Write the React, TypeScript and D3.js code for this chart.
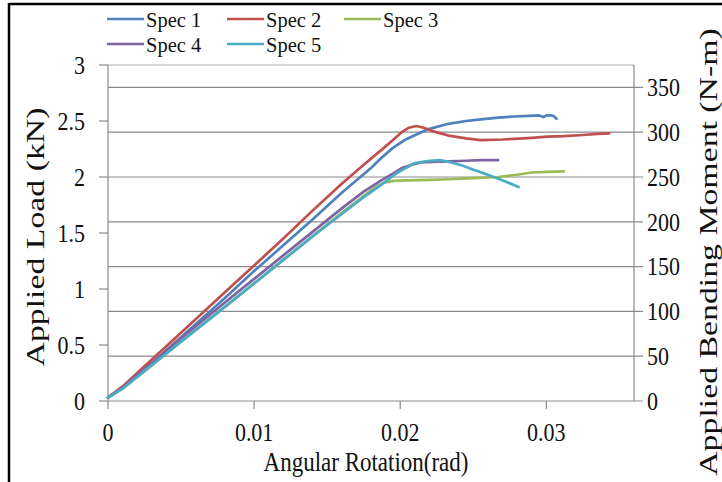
import React from "react";
import * as d3 from "d3";

// Rotation (rad) / applied load (kN) readings for each specimen
const spec1X = [0, 0.001, 0.003, 0.005, 0.008, 0.010, 0.012, 0.014, 0.016, 0.018, 0.0187, 0.0195, 0.0203, 0.0211, 0.022, 0.0233, 0.0245, 0.0255, 0.0267, 0.0278, 0.0288, 0.0295, 0.0298, 0.0300, 0.0303, 0.0305, 0.0307];
const spec1Y = [0.03, 0.12, 0.34, 0.57, 0.92, 1.16, 1.39, 1.62, 1.86, 2.08, 2.17, 2.26, 2.33, 2.38, 2.43, 2.475, 2.50, 2.515, 2.53, 2.54, 2.545, 2.55, 2.535, 2.55, 2.55, 2.545, 2.52];

const spec2X = [0, 0.001, 0.003, 0.005, 0.008, 0.010, 0.012, 0.014, 0.016, 0.0175, 0.0187, 0.0195, 0.0201, 0.0206, 0.0211, 0.0216, 0.0222, 0.0233, 0.0245, 0.0255, 0.027, 0.0278, 0.029, 0.0301, 0.0312, 0.0325, 0.0335, 0.0343];
const spec2Y = [0.03, 0.13, 0.37, 0.61, 0.97, 1.21, 1.45, 1.70, 1.94, 2.11, 2.24, 2.33, 2.40, 2.44, 2.455, 2.44, 2.41, 2.37, 2.345, 2.33, 2.335, 2.34, 2.35, 2.36, 2.365, 2.375, 2.385, 2.39];

const spec3X = [0, 0.001, 0.003, 0.005, 0.008, 0.010, 0.012, 0.014, 0.016, 0.0175, 0.0183, 0.0189, 0.0195, 0.0205, 0.022, 0.0233, 0.025, 0.0267, 0.028, 0.029, 0.030, 0.0312];
const spec3Y = [0.03, 0.11, 0.32, 0.53, 0.84, 1.05, 1.26, 1.47, 1.68, 1.83, 1.91, 1.95, 1.965, 1.97, 1.975, 1.98, 1.99, 2.00, 2.02, 2.04, 2.045, 2.05];

const spec4X = [0, 0.001, 0.003, 0.005, 0.008, 0.010, 0.012, 0.014, 0.016, 0.0175, 0.0187, 0.0195, 0.0201, 0.0208, 0.0214, 0.0222, 0.0233, 0.0245, 0.0255, 0.0267];
const spec4Y = [0.03, 0.12, 0.34, 0.56, 0.88, 1.09, 1.30, 1.51, 1.72, 1.87, 1.97, 2.03, 2.08, 2.11, 2.13, 2.135, 2.14, 2.145, 2.15, 2.15];

const spec5X = [0, 0.001, 0.003, 0.005, 0.008, 0.010, 0.012, 0.014, 0.016, 0.0175, 0.0187, 0.0197, 0.021, 0.022, 0.0228, 0.0235, 0.0243, 0.0251, 0.0258, 0.0264, 0.0272, 0.0281];
const spec5Y = [0.03, 0.11, 0.32, 0.53, 0.84, 1.05, 1.26, 1.47, 1.67, 1.82, 1.93, 2.03, 2.125, 2.145, 2.15, 2.13, 2.10, 2.06, 2.03, 2.0, 1.96, 1.91];

const seriesNames = ["Spec 1", "Spec 2", "Spec 3", "Spec 4", "Spec 5"];
const seriesColors = ["#4F81BD", "#C0504D", "#9BBB59", "#8064A2", "#4BACC6"];

const xTicks = [0, 0.01, 0.02, 0.03];
const xTickLabels = ["0", "0.01", "0.02", "0.03"];
const loadTicks = [0, 0.5, 1, 1.5, 2, 2.5, 3];
const loadTickLabels = ["0", "0.5", "1", "1.5", "2", "2.5", "3"];
const momentTicks = [0, 50, 100, 150, 200, 250, 300, 350];

const W = 722;
const H = 482;
const plot = { left: 108, right: 634, top: 65, bottom: 401 };
const FONT = "'Liberation Serif', 'Times New Roman', serif";
const AXIS = "#8c8c8c";
const TEXT = "#111";
// glyphs are drawn taller than they are wide
const STRETCH = 1.15;
const TITLE_STRETCH = 1.3;

type LabelProps = {
  x: number;
  y: number;
  size: number;
  anchor?: "start" | "middle" | "end";
  dy?: string;
  rotate?: boolean;
  stretch?: number;
  children: React.ReactNode;
};

function Label({ x, y, size, anchor = "start", dy, rotate, stretch = STRETCH, children }: LabelProps) {
  const t = `translate(${x},${y}) scale(1,${stretch})${rotate ? " rotate(-90)" : ""}`;
  return (
    <g transform={t}>
      <text x={0} y={0} dy={dy} textAnchor={anchor} fontSize={size} fill={TEXT}>
        {children}
      </text>
    </g>
  );
}

export default function App() {
  const x = d3.scaleLinear().domain([0, 0.036]).range([plot.left, plot.right]);
  const yLoad = d3.scaleLinear().domain([0, 3]).range([plot.bottom, plot.top]);
  const yMoment = d3.scaleLinear().domain([0, 375]).range([plot.bottom, plot.top]);

  const xs = [spec1X, spec2X, spec3X, spec4X, spec5X];
  const ys = [spec1Y, spec2Y, spec3Y, spec4Y, spec5Y];
  const line = d3
    .line<[number, number]>()
    .x((d) => x(d[0]))
    .y((d) => yLoad(d[1]));

  const legendItems = [
    { col: 0, row: 0 },
    { col: 1, row: 0 },
    { col: 2, row: 0 },
    { col: 0, row: 1 },
    { col: 1, row: 1 },
  ];
  const legendColX = [107, 227, 344];
  const legendRowY = [19, 44];

  return (
    <svg
      width={W}
      height={H}
      style={{ position: "absolute", left: 0, top: 0, background: "#fff" }}
      fontFamily={FONT}
    >
      <rect x={0} y={0} width={W} height={H} fill="#fff" />
      {/* frame */}
      <line x1={9} y1={3} x2={9} y2={H} stroke="#000" strokeWidth={2.5} />
      <line x1={9} y1={4} x2={W} y2={4} stroke="#000" strokeWidth={2.5} />

      {/* gridlines on the moment axis */}
      {momentTicks.map((t) => (
        <line
          key={"g" + t}
          x1={plot.left}
          x2={plot.right + 9}
          y1={yMoment(t)}
          y2={yMoment(t)}
          stroke={AXIS}
          strokeWidth={1.2}
        />
      ))}
      {/* plot border */}
      <line x1={plot.left} x2={plot.right} y1={plot.top} y2={plot.top} stroke="#b0b0b0" strokeWidth={1.2} />
      <line x1={plot.right} x2={plot.right} y1={plot.top} y2={plot.bottom} stroke={AXIS} strokeWidth={1.2} />
      <line x1={plot.left} x2={plot.left} y1={plot.top} y2={plot.bottom} stroke={AXIS} strokeWidth={1.2} />

      {/* left ticks */}
      {loadTicks.map((t, i) => (
        <g key={"l" + t}>
          <line x1={plot.left - 9} x2={plot.left} y1={yLoad(t)} y2={yLoad(t)} stroke={AXIS} strokeWidth={1.2} />
          <Label x={85} y={yLoad(t)} size={22} anchor="end" dy="0.35em">
            {loadTickLabels[i]}
          </Label>
        </g>
      ))}
      {/* right ticks */}
      {momentTicks.map((t) => (
        <Label key={"r" + t} x={647} y={yMoment(t)} size={22} dy="0.35em">
          {t}
        </Label>
      ))}
      {/* bottom ticks */}
      {xTicks.map((t, i) => (
        <g key={"b" + t}>
          <line x1={x(t)} x2={x(t)} y1={plot.bottom} y2={plot.bottom + 8} stroke={AXIS} strokeWidth={1.2} />
          <Label x={x(t)} y={441} size={22} anchor="middle">
            {xTickLabels[i]}
          </Label>
        </g>
      ))}

      {/* data */}
      {xs.map((sx, i) => (
        <path
          key={"s" + i}
          d={line(sx.map((v, j) => [v, ys[i][j]] as [number, number])) || ""}
          fill="none"
          stroke={seriesColors[i]}
          strokeWidth={2.7}
          strokeLinejoin="round"
          strokeLinecap="round"
        />
      ))}

      {/* titles */}
      <Label x={(plot.left + plot.right) / 2 - 5} y={471} size={23} anchor="middle" stretch={1.15}>
        Angular Rotation(rad)
      </Label>
      <Label x={35} y={237} size={26} anchor="middle" dy="0.35em" rotate stretch={TITLE_STRETCH}>
        Applied Load (kN)
      </Label>
      <Label x={708} y={252} size={26} anchor="middle" dy="0.35em" rotate stretch={TITLE_STRETCH}>
        Applied Bending Moment (N-m)
      </Label>

      {/* legend */}
      {legendItems.map((it, i) => (
        <g key={"lg" + i}>
          <line
            x1={legendColX[it.col]}
            x2={legendColX[it.col] + 37}
            y1={legendRowY[it.row]}
            y2={legendRowY[it.row]}
            stroke={seriesColors[i]}
            strokeWidth={2.7}
          />
          <Label x={legendColX[it.col] + 39} y={legendRowY[it.row]} size={20.5} dy="0.35em" stretch={1.05}>
            {seriesNames[i]}
          </Label>
        </g>
      ))}
    </svg>
  );
}
